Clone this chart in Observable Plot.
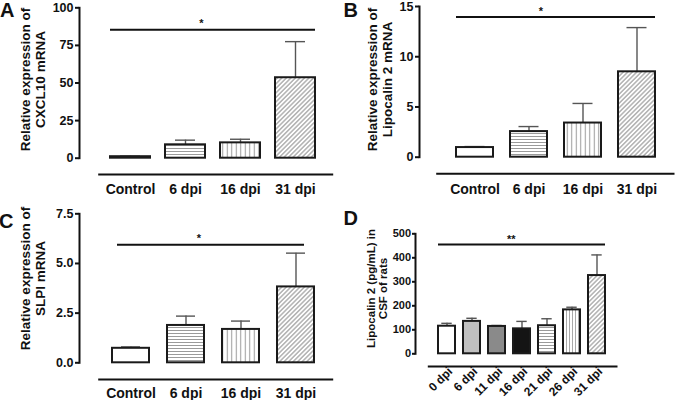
<!DOCTYPE html>
<html><head><meta charset="utf-8">
<script src="https://cdn.jsdelivr.net/npm/d3@7"></script>
<script src="https://cdn.jsdelivr.net/npm/@observablehq/plot@0.6"></script>
<style>
body{margin:0;background:#fff;}
#fig{position:relative;width:675px;height:400px;overflow:hidden;font-family:"Liberation Sans",Arial,sans-serif;color:#111;}
.panel{position:absolute;}
.panel svg{overflow:visible;}
.letter{position:absolute;font-weight:bold;font-size:20px;line-height:20px;}
</style></head><body>
<svg width="0" height="0" style="position:absolute">
<defs>
<pattern id="hstripe" patternUnits="userSpaceOnUse" width="6" height="3"><rect width="6" height="3" fill="#fff"/><line x1="0" x2="6" y1="1.5" y2="1.5" stroke="#9a9a9a" stroke-width="1"/></pattern>
<pattern id="vstripe" patternUnits="userSpaceOnUse" width="4.5" height="6"><rect width="4.5" height="6" fill="#fff"/><line y1="0" y2="6" x1="2.25" x2="2.25" stroke="#9a9a9a" stroke-width="1"/></pattern>
<pattern id="vstripe2" patternUnits="userSpaceOnUse" width="3" height="6"><rect width="3" height="6" fill="#fff"/><line y1="0" y2="6" x1="1.5" x2="1.5" stroke="#a0a0a0" stroke-width="0.9"/></pattern>
<pattern id="diag" patternUnits="userSpaceOnUse" width="3.2" height="6" patternTransform="rotate(45)"><rect width="3.2" height="6" fill="#fff"/><line y1="0" y2="6" x1="1.6" x2="1.6" stroke="#8a8a8a" stroke-width="1"/></pattern>
</defs></svg>
<div id="fig"></div>
<script>
// ---------- data ----------
const catsMRNA = ["Control", "6 dpi", "16 dpi", "31 dpi"];
const cxcl10Mean = [1.0, 8.9, 10.2, 53.5];
const cxcl10Upper = [1.3, 12.0, 12.6, 77.5];
const lcn2Mean = [0.96, 2.55, 3.4, 8.5];
const lcn2Upper = [1.06, 3.05, 5.35, 12.9];
const slpiMean = [0.73, 1.88, 1.68, 3.82];
const slpiUpper = [0.8, 2.35, 2.1, 5.52];
const catsCSF = ["0 dpi", "6 dpi", "11 dpi", "16 dpi", "21 dpi", "26 dpi", "31 dpi"];
const csfMean = [115, 135, 114, 104, 117, 183, 326];
const csfUpper = [127, 148, 118, 135, 146, 194, 412];
const ticksA = [0, 25, 50, 75, 100];
const ticksB = [0, 5, 10, 15];
const ticksC = [0, 2.5, 5, 7.5];
const ticksD = [0, 100, 200, 300, 400, 500];
const sigA = {from: "Control", to: "31 dpi", at: "6 dpi", y: 85.4, label: "*"};
const sigB = {from: "Control", to: "31 dpi", at: "6 dpi", y: 13.95, label: "*"};
const sigC = {from: "Control", to: "31 dpi", at: "6 dpi", y: 5.94, label: "*"};
const sigD = {from: "0 dpi", to: "31 dpi", at: "16 dpi", y: 455, label: "**"};
const titleA = "Relative expression of\nCXCL10 mRNA";
const titleB = "Relative expression of\nLipocalin 2 mRNA";
const titleC = "Relative expression of\nSLPI mRNA";
const titleD = "Lipocalin 2 (pg/mL) in\nCSF of rats";

// ---------- styles ----------
const fillsMRNA = ["#ffffff", "url(#hstripe)", "url(#vstripe)", "url(#diag)"];
const fillsCSF = ["#ffffff", "#c0c0c0", "#8a8a8a", "#141414", "url(#hstripe)", "url(#vstripe2)", "url(#diag)"];
const FONT = '"Liberation Sans", Arial, sans-serif';

function panel(p, L) {
  const data = p.cats.map((c, i) => ({cat: c, mean: p.mean[i], upper: p.upper[i]}));
  const frameMid = (L.top + L.xLineY) / 2;
  const svg = Plot.plot({
    width: L.w, height: L.h,
    marginLeft: L.axisX, marginTop: L.top,
    marginRight: L.w - L.xLineEnd, marginBottom: L.h - L.xLineY,
    style: {fontFamily: FONT, background: "transparent", color: "#111"},
    x: {domain: p.cats, range: L.xRange, paddingInner: L.pad, paddingOuter: L.pad / 2, axis: null},
    y: {domain: [p.ticks[0], p.ticks[p.ticks.length - 1]], range: [L.y0, L.top], axis: null},
    color: {type: "ordinal", domain: p.cats, range: p.fills},
    marks: [
      Plot.frame({anchor: "left", stroke: "#111", strokeWidth: 2, insetBottom: L.xLineY - L.y0}),
      Plot.frame({anchor: "bottom", stroke: "#111", strokeWidth: 2, insetLeft: L.xLineStart - L.axisX}),
      Plot.axisY(p.ticks, {tickFormat: p.tickFormat, tickSize: L.tickSize, tickPadding: L.tickPad,
        strokeWidth: 2, stroke: "#111", fontSize: L.yFont, fontWeight: "bold", label: null}),
      Plot.axisX({tickSize: 0, tickPadding: L.xPad, tickRotate: L.xRotate || 0, dx: L.xDx || 0,
        fontSize: L.xFont, fontWeight: "bold", label: null}),
      Plot.ruleX(data, {x: "cat", y1: "mean", y2: "upper", stroke: "#555", strokeWidth: 1.4}),
      Plot.tickY(data, {x: "cat", y: "upper", stroke: "#555", strokeWidth: 1.4, inset: L.capInset}),
      Plot.barY(data, {x: "cat", y: "mean", fill: "cat", stroke: "#1a1a1a", strokeWidth: 2}),
      Plot.ruleY([p.sig], {y: "y", x1: "from", x2: "to", stroke: "#111", strokeWidth: 2,
        insetLeft: L.sigInsetL || 0, insetRight: L.sigInsetR || 0}),
      Plot.text([p.sig], {x: "at", y: "y", text: "label", dx: L.starDx, dy: L.starDy,
        fontSize: 11, fontWeight: "bold", lineAnchor: "middle"}),
      Plot.text([p.title], {frameAnchor: "left", rotate: -90, textAnchor: "middle", lineAnchor: "middle",
        dx: L.titleX - L.axisX, dy: L.titleY - frameMid, fontSize: L.titleFont, fontWeight: "bold",
        lineHeight: L.titleLH})
    ]
  });
  const div = document.createElement("div");
  div.className = "panel";
  div.style.left = L.left + "px";
  div.style.top = L.topPage + "px";
  div.appendChild(svg);
  document.getElementById("fig").appendChild(div);
  const lt = document.createElement("div");
  lt.className = "letter";
  lt.textContent = p.letter;
  lt.style.left = L.letterX + "px";
  lt.style.top = L.letterY + "px";
  document.getElementById("fig").appendChild(lt);
}

const f1 = d3.format(".1f");
panel({cats: catsMRNA, mean: cxcl10Mean, upper: cxcl10Upper, fills: fillsMRNA, ticks: ticksA,
  tickFormat: d3.format("d"), sig: sigA, title: titleA, letter: "A"},
  {left: 0, topPage: 0, w: 340, h: 200, axisX: 79, top: 7.3, y0: 157.7, xLineY: 174, xLineStart: 98.7,
   xLineEnd: 331.7, xRange: [102.4, 323.1], pad: 0.27, capInset: 10, tickSize: 4, tickPad: 2, yFont: 12.5,
   xFont: 14, xPad: 10, starDx: 16, starDy: -6, titleX: 32, titleY: 79, titleFont: 13.5, titleLH: 1.12,
   letterX: 0, letterY: 0});
panel({cats: catsMRNA, mean: lcn2Mean, upper: lcn2Upper, fills: fillsMRNA, ticks: ticksB,
  tickFormat: d3.format("d"), sig: sigB, title: titleB, letter: "B"},
  {left: 340, topPage: 0, w: 335, h: 200, axisX: 79, top: 6, y0: 156.7, xLineY: 173.3, xLineStart: 96.7,
   xLineEnd: 333, xRange: [106, 324.3], pad: 0.32, capInset: 8.5, tickSize: 4, tickPad: 2, yFont: 12.5,
   xFont: 14, xPad: 10, starDx: 12, starDy: -6, titleX: 39.2, titleY: 79, titleFont: 13.5, titleLH: 1.12,
   letterX: 343.5, letterY: 0});
panel({cats: catsMRNA, mean: slpiMean, upper: slpiUpper, fills: fillsMRNA, ticks: ticksC,
  tickFormat: f1, sig: sigC, title: titleC, letter: "C"},
  {left: 0, topPage: 200, w: 340, h: 200, axisX: 79, top: 13.3, y0: 162.3, xLineY: 179, xLineStart: 98.7,
   xLineEnd: 331.7, xRange: [102.8, 322.8], pad: 0.33, capInset: 9, tickSize: 4, tickPad: 2, yFont: 12.5,
   xFont: 14, xPad: 8.7, starDx: 13, starDy: -6, sigInsetL: 5, sigInsetR: 10, titleX: 32, titleY: 78,
   titleFont: 13.5, titleLH: 1.12, letterX: -1, letterY: 211});
panel({cats: catsCSF, mean: csfMean, upper: csfUpper, fills: fillsCSF, ticks: ticksD,
  tickFormat: d3.format("d"), sig: sigD, title: titleD, letter: "D"},
  {left: 340, topPage: 200, w: 335, h: 200, axisX: 75, top: 33.3, y0: 153.3, xLineY: 166, xLineStart: 88.3,
   xLineEnd: 276, xRange: [92.8, 270.6], pad: 0.31, capInset: 3.3, tickSize: 3, tickPad: 1.5, yFont: 11,
   xFont: 12, xPad: 3, xRotate: -45, xDx: 3.5, starDx: -10.7, starDy: -5, titleX: 37, titleY: 88,
   titleFont: 11.5, titleLH: 1.0, letterX: 343.5, letterY: 208});
</script>
</body></html>
